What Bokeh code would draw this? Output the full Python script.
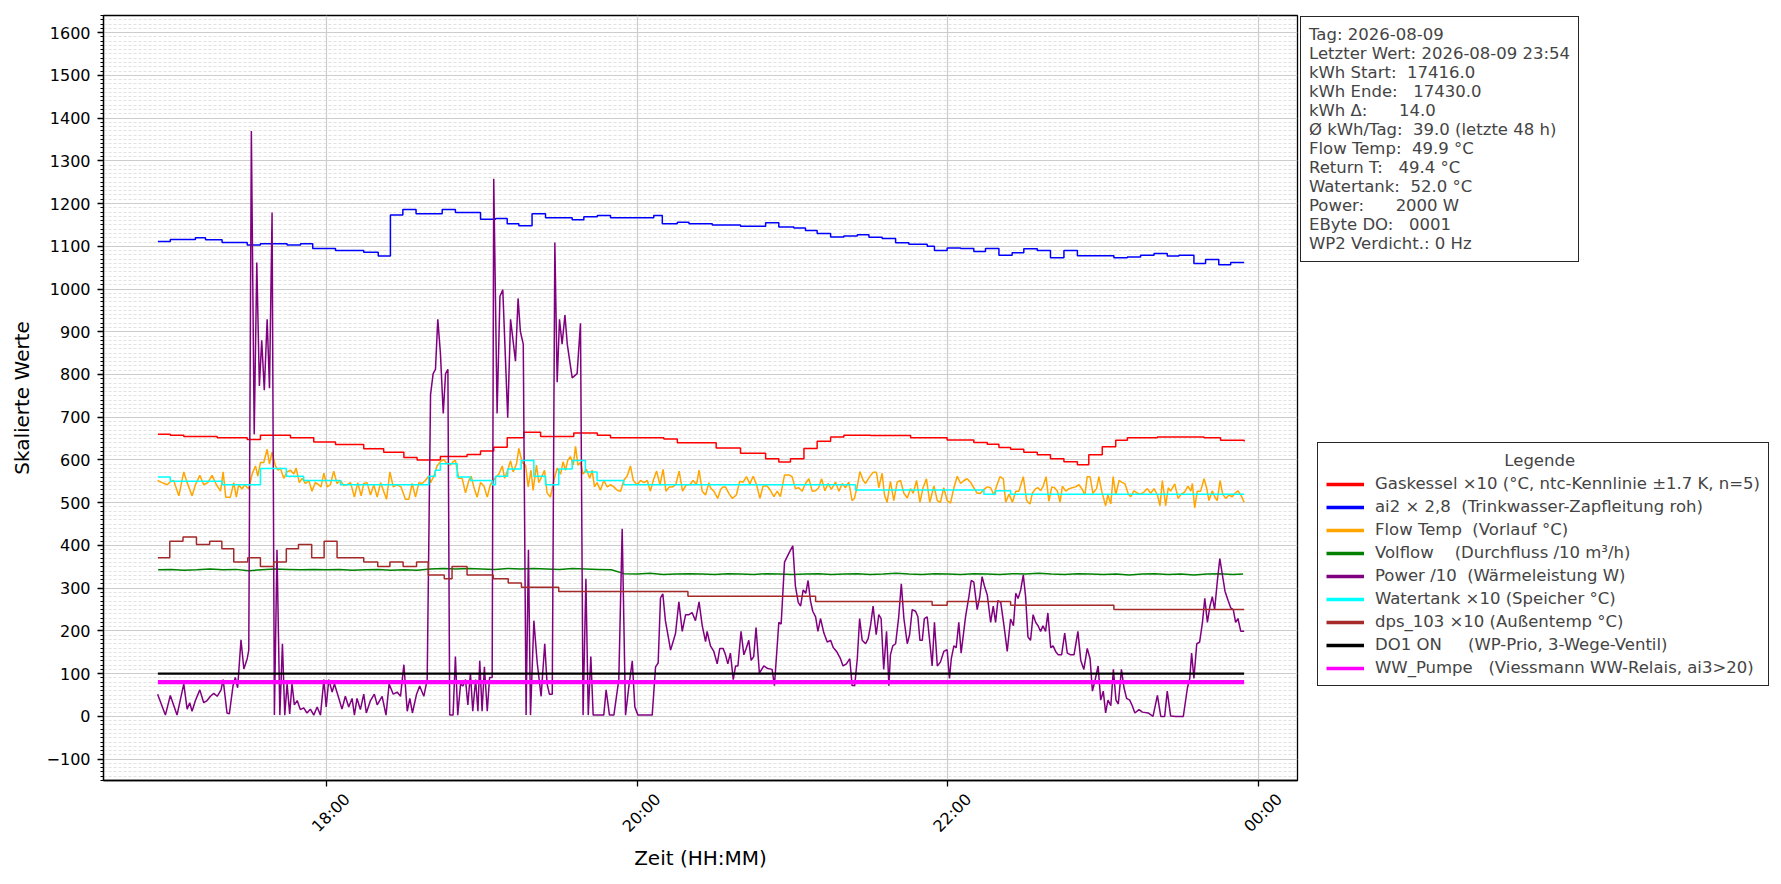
import numpy as np
import pandas as pd
from bokeh.plotting import figure
from bokeh.layouts import row
from bokeh.models import (Legend, LegendItem, SingleIntervalTicker, FixedTicker,
                          DatetimeAxis, Range1d)
from bokeh.embed import file_html
from bokeh.resources import INLINE

# ---------------- data (times in minutes relative to 18:00 on 2026-08-09) ----------------
BASE = pd.Timestamp("2026-08-09 18:00")

gas_t = [-65.1, -60.3, -55.1, -42.2, -30.6, -25.5, -13.9, -4.9, 3.5, 14.4,
         22.1, 29.9, 35.0, 44.0, 54.3, 59.5, 64.6, 69.8, 76.2, 82.7,
         95.5, 104.6, 109.7, 130.3, 135.5, 150.5, 159.9, 169.6, 174.7, 179.2,
         184.4, 189.5, 194.7, 199.8, 210.1, 225.6, 239.7, 250.0, 255.2, 259.7,
         264.2, 269.3, 274.5, 279.6, 284.8, 290.0, 294.4, 299.6, 304.8, 309.3,
         320.9, 338.9, 345.3, 354.4]
gas_v = [660, 658, 655, 652, 648, 658, 652, 642, 636, 626,
         618, 606, 600, 608, 613, 621, 630, 652, 665, 655,
         663, 658, 652, 649, 640, 628, 616, 603, 595, 603,
         627, 644, 654, 658, 657, 652, 647, 641, 637, 629,
         625, 618, 612, 603, 596, 589, 612, 631, 646, 652,
         654, 652, 646, 643]

ai2_t = [-65.1, -60.3, -50.6, -46.7, -40.3, -30.6, -25.5, -15.2, -10.0, -5.3,
         3.5, 14.4, 20.0, 24.7, 29.5, 34.6, 44.7, 49.8, 59.5, 65.3,
         69.8, 74.3, 79.4, 84.6, 94.9, 99.4, 104.6, 109.7, 126.4, 129.7,
         135.5, 140.0, 149.0, 159.9, 169.6, 174.7, 180.5, 185.0, 189.5, 194.7,
         199.8, 205.0, 209.5, 214.6, 219.8, 224.9, 232.0, 234.8, 239.7, 244.9,
         250.0, 254.5, 259.7, 264.8, 269.3, 274.5, 279.6, 284.8, 290.0, 304.1,
         309.3, 314.4, 319.6, 324.7, 329.2, 335.0, 339.5, 344.6, 349.2, 354.4]
ai2_v = [1111, 1116, 1120, 1115, 1109, 1103, 1106, 1103, 1106, 1095,
         1090, 1086, 1077, 1173, 1186, 1176, 1186, 1179, 1163, 1165,
         1153, 1148, 1176, 1167, 1162, 1169, 1172, 1167, 1172, 1153,
         1156, 1153, 1150, 1147, 1155, 1145, 1143, 1137, 1130, 1122,
         1124, 1127, 1121, 1118, 1108, 1105, 1100, 1090, 1096, 1095,
         1088, 1095, 1079, 1085, 1094, 1090, 1073, 1090, 1078, 1073,
         1075, 1079, 1083, 1077, 1079, 1060, 1069, 1057, 1062, 1062]

flow_t = [-65.2, -63.5, -61.5, -60.3, -59.0, -57.0, -55.1, -53.8, -51.9, -50.6,
          -48.9, -47.4, -45.8, -44.2, -42.5, -40.9, -39.9, -38.9, -37.1, -35.8,
          -34.8, -33.9, -32.6, -31.6, -30.0, -28.7, -27.4, -26.5, -25.5, -24.2,
          -22.9, -22.0, -21.0, -19.7, -18.7, -17.8, -16.5, -15.2, -13.9, -12.6,
          -11.7, -10.5, -9.4, -8.1, -6.8, -5.6, -4.3, -3.0, -2.1, -1.0,
          0.3, 1.5, 2.8, 4.1, 5.4, 6.7, 8.0, 9.3, 10.8, 12.1,
          13.4, 14.4, 15.7, 17.0, 18.3, 19.6, 20.9, 22.1, 23.2, 24.5,
          25.8, 27.3, 28.8, 30.5, 31.8, 33.1, 34.4, 35.7, 36.9, 38.2,
          39.5,
          40.2, 41.5, 42.7, 44.0, 45.3, 46.6, 47.9, 48.9, 49.8, 51.1,
          52.4, 53.7, 55.0, 55.9, 56.9, 58.2, 59.5, 60.8, 62.1, 63.3,
          64.4, 65.3, 66.6, 67.9, 68.8, 70.0, 71.1, 72.1, 73.4, 74.3,
          75.6, 76.9, 77.9, 79.0, 79.8, 81.1, 82.0, 83.0, 84.2, 85.2,
          86.5, 87.8, 89.1, 90.4, 91.4, 92.3, 93.2, 94.2, 95.3, 96.2,
          97.1, 98.1, 99.1, 100.4, 101.7, 102.6, 103.5, 104.5, 105.8, 107.1,
          108.4, 109.7, 111.0, 112.3, 113.6, 114.8, 116.1, 117.4, 118.5, 120.0,
          121.3, 122.6, 123.9, 125.1, 126.2, 127.5, 128.8, 130.0, 131.1, 132.4,
          133.6, 134.9, 136.2, 137.5, 139.0, 140.3, 141.6, 142.9, 143.9, 145.1,
          146.4, 147.7,
          148.3, 149.6, 151.1, 152.2, 153.2, 154.1, 155.4, 156.7, 158.3, 159.6,
          160.9, 162.2, 163.5, 164.8, 166.1, 167.4, 168.6, 170.2, 171.5, 172.8,
          174.1, 175.3, 176.9, 178.6, 179.8, 181.1, 182.4, 183.7, 185.0, 186.3,
          187.6, 188.9, 190.1, 191.2, 192.5, 193.7, 195.0, 196.6, 197.9, 199.2,
          200.4, 201.7, 203.0, 203.9, 205.0, 206.0, 207.3, 208.2, 209.8, 211.1,
          212.4, 213.3, 214.6, 215.5, 216.5, 217.8, 219.1, 220.4, 221.7, 223.0,
          224.3, 225.6, 226.6, 227.9, 229.2, 230.4, 231.7, 233.0, 234.6, 235.9,
          237.1, 238.4, 239.7, 241.0, 242.3, 243.6, 244.9, 246.2, 247.4, 248.7,
          250.0, 251.3, 252.6, 253.9, 255.2,
          256.5, 257.8, 258.8, 260.1, 261.4, 262.3, 263.6, 264.9, 266.2, 267.4,
          269.1, 270.4, 271.7, 272.6, 273.9, 274.8, 275.8, 276.8, 277.9, 279.0,
          280.1, 281.2, 282.3, 283.3, 284.2, 285.5, 286.8, 288.0, 289.3, 290.6,
          291.9, 292.9, 293.8, 294.9, 296.0, 297.4, 298.3, 299.4, 300.9, 301.8,
          302.9, 303.8, 304.8, 306.1, 307.1, 308.4, 309.7, 310.6, 311.9, 313.2,
          314.4, 315.7, 317.0, 318.3, 319.6, 320.9, 321.9, 322.8, 324.1, 325.1,
          326.0, 327.6, 328.9, 330.1, 331.4, 332.7, 333.8, 334.4, 335.3, 336.3,
          337.6, 338.9, 339.9, 340.8, 342.1, 343.0, 344.0, 345.1, 346.1, 347.3,
          348.6, 349.8, 350.9, 352.0, 353.3, 354.4]
flow_v = [552, 547, 542, 549, 552, 516, 572, 547, 516, 542,
          564, 542, 547, 564, 542, 527, 572, 513, 513, 547,
          513, 542, 532, 542, 532, 567, 586, 562, 594, 594,
          625, 591, 618, 586, 576, 581, 557, 572, 576, 567,
          581, 547, 557, 545, 552, 527, 547, 542, 537, 569,
          537, 542, 574, 545, 552, 540, 542, 547, 513, 547,
          516, 545, 547, 518, 542, 513, 547, 527, 508, 572,
          537, 542, 537, 508, 508, 545, 513, 547, 545, 552,
          562,
          547, 562, 586, 596, 601, 591, 588, 596, 599, 557,
          557, 523, 552, 562, 537, 513, 547, 539, 513, 542,
          552, 559, 567, 586, 557, 576, 598, 572, 591, 627,
          594, 588, 537, 576, 529, 588, 547, 559, 576, 523,
          513, 552, 581, 567, 596, 576, 599, 608, 588, 632,
          588, 594, 567, 578, 557, 576, 537, 547, 529, 552,
          537, 542, 537, 529, 527, 552, 562, 586, 552, 542,
          552, 547, 552, 527, 552, 574, 542, 578, 527, 537,
          537, 542, 574, 527, 542, 542, 552, 542, 576, 527,
          518, 547,
          535, 527, 510, 531, 537, 537, 522, 510, 518, 550,
          548, 561, 544, 562, 542, 510, 539, 539, 528, 514,
          527, 514, 565, 565, 561, 533, 535, 527, 545, 556,
          527, 528, 535, 556, 528, 545, 531, 548, 527, 545,
          535, 548, 505, 510, 539, 573, 552, 545, 561, 571,
          571, 535, 569, 518, 501, 550, 505, 548, 552, 522,
          511, 533, 522, 552, 501, 535, 556, 501, 539, 505,
          501, 535, 505, 499, 535, 562, 545, 552, 556, 548,
          535, 522, 522, 531, 537,
          535, 518, 539, 561, 556, 501, 520, 501, 527, 527,
          561, 505, 497, 522, 533, 535, 528, 539, 561, 503,
          537, 535, 527, 501, 539, 527, 533, 535, 537, 542,
          531, 518, 561, 561, 522, 533, 561, 527, 493, 518,
          497, 561, 518, 552, 548, 544, 520, 514, 528, 522,
          520, 525, 533, 522, 533, 518, 493, 552, 493, 535,
          527, 544, 510, 520, 525, 539, 527, 545, 488, 527,
          527, 556, 535, 505, 528, 514, 505, 552, 520, 510,
          518, 514, 522, 528, 516, 501]

volflow_t = [-65, -60, -55, -50, -45, -40, -35, -30, -25, -20,
             -15, -10, -5, 0, 5, 10, 15, 20, 25, 30,
             35, 40, 45, 50, 55, 60, 65, 70, 75, 80,
             85, 90, 95, 100, 105, 110, 115, 120, 125, 130,
             135, 140, 145, 150, 155, 160, 165, 170, 175, 180,
             185, 190, 195, 200, 205, 210, 215, 220, 225, 230,
             235, 240, 245, 250, 255, 260, 265, 270, 275, 280,
             285, 290, 295, 300, 305, 310, 315, 320, 325, 330,
             335, 340, 345, 350, 354]
volflow_v = [343, 344, 342, 343, 345, 343, 344, 341, 343, 345,
             344, 343, 344, 343, 344, 342, 343, 344, 342, 343,
             342, 345, 346, 345, 346, 345, 344, 346, 345, 346,
             345, 344, 346, 345, 344, 343, 334, 333, 335, 332,
             333, 334, 333, 332, 334, 333, 332, 334, 333, 332,
             333, 334, 332, 333, 334, 332, 333, 335, 333, 332,
             334, 333, 332, 334, 333, 332, 334, 333, 335, 333,
             332, 334, 333, 332, 333, 331, 333, 334, 332, 333,
             331, 333, 334, 332, 333]

power_t = [-65.2, -62.2, -60.3, -57.7, -55.1, -53.8, -52.8, -51.9, -50.6, -48.9,
           -47.4, -46.1, -44.8, -43.5, -42.2, -40.7, -39.9, -38.4, -37.5, -36.1,
           -35.2, -34.3, -33.0, -31.9, -30.6, -30.0,
           -29.0, -27.9, -26.9, -25.9, -25.0, -24.0, -22.9, -22.0, -21.0, -20.1,
           -19.1, -18.0, -17.0, -16.1, -15.2, -14.2, -13.3, -12.4, -11.3, -10.1,
           -8.8, -7.5, -6.2, -4.9, -3.6, -2.3, -1.0, -0.1, 0.9, 2.2,
           3.1, 4.8, 6.0, 7.3, 8.6, 9.9, 10.8, 11.8, 13.1, 14.4,
           15.4, 17.0, 18.5, 19.6, 21.5, 23.0, 24.2, 25.8, 27.3, 28.6,
           29.9, 31.2, 32.2, 33.2, 34.8, 36.0, 37.6, 38.9,
           40.2, 41.2, 42.1, 43.0, 44.0, 45.1, 46.0, 46.9, 47.6, 48.9,
           49.8, 50.7, 51.8, 52.7, 53.7, 54.6, 55.6, 56.5, 57.6, 58.5,
           59.2, 60.1, 61.0, 62.1, 63.0, 64.0, 64.6, 65.9, 67.0, 68.1,
           70.0, 71.1, 73.0, 74.0, 74.9, 76.0, 77.1, 78.0, 78.8, 80.1,
           81.4, 82.9, 84.3, 85.2, 86.1, 87.2, 88.2, 89.1, 90.0, 91.0,
           92.1, 93.0, 94.9, 96.8, 98.1, 99.1, 100.2, 101.1, 102.1, 103.0,
           107.1, 108.0, 109.3, 111.0, 112.9, 114.2, 115.5, 116.8, 118.1, 119.1,
           120.3, 125.8, 127.1, 128.1, 129.0, 129.9, 130.9, 132.9, 134.8, 136.1,
           137.4, 138.7, 140.0, 141.2, 142.5, 143.9, 145.1, 146.4, 147.0,
           148.3, 149.6, 150.9, 151.9, 153.2, 154.1, 155.0, 156.0, 157.1, 158.0,
           158.9, 160.1, 161.2, 162.1, 163.1, 164.0, 165.0, 165.9, 167.2, 168.9,
           170.4, 172.1, 173.0, 174.7, 175.6, 176.9, 178.6, 180.1, 181.1, 182.2,
           183.1, 184.1, 185.1, 186.0, 186.9, 187.8, 188.9, 189.8, 190.8, 192.1,
           193.4, 194.7, 195.7, 197.0, 198.5, 199.5, 200.8, 202.1, 203.0, 204.0,
           205.0, 205.9, 206.9, 208.2, 209.2, 210.1, 211.1, 212.3, 213.3, 214.2,
           215.2, 216.3, 217.2, 217.8, 218.7, 219.8, 221.0, 222.0, 223.0, 224.3,
           225.2, 226.2, 227.5, 228.4, 229.2, 230.1, 230.9, 232.0, 233.3, 233.9,
           234.8, 235.9, 237.1, 238.4, 239.7, 240.6, 241.3, 242.3, 243.2, 244.2,
           245.1, 246.8, 248.1, 249.0, 250.0, 251.3, 252.3, 253.2, 254.1, 255.2,
           256.5, 257.5, 258.4, 259.3, 260.4, 261.7, 262.9, 264.2, 265.3, 266.2,
           267.1, 268.1, 269.1, 270.0, 270.9, 271.9, 272.9, 273.9, 274.8, 275.8,
           276.7, 277.7, 278.6, 279.7, 280.6, 281.6, 282.6, 283.9, 285.1, 286.1,
           287.4, 288.7, 290.2, 291.3, 292.5, 293.8, 294.9, 295.8, 296.8, 298.0,
           299.0, 300.0, 300.9, 301.8, 302.9, 303.9, 304.9, 305.8, 307.0, 308.0,
           309.0, 310.2, 311.2, 312.2, 313.8, 315.1, 317.3, 319.2, 320.9, 322.2,
           323.7, 324.7, 326.0, 328.0, 330.9, 332.5, 333.4, 334.1, 335.0, 336.1,
           337.2, 338.3, 339.2, 340.2, 341.2, 342.1, 343.0, 344.0, 345.0, 346.0,
           347.0, 348.2, 349.2, 350.2, 351.1, 352.0, 353.1, 354.4]
power_v = [52, 3, 49, 3, 76, 17, 32, 12, 37, 62,
           32, 37, 47, 54, 47, 62, 86, 8, 6, 71,
           91, 67, 179, 111, 135, 155,
           1370, 660, 1062, 773, 880, 763, 929, 768, 1179, 3,
           390, 3, 170, 3, 76, 6, 76, 27, 37, 16,
           20, 8, 17, 3, 22, 3, 86, 22, 86, 57,
           76, 42, 17, 47, 22, 42, 3, 42, 16, 52,
           8, 37, 52, 27, 47, 3, 76, 52, 57, 47,
           121, 12, 42, 8, 52, 71, 47, 86,
           753, 802, 812, 929, 851, 709, 802, 812, 3, 3,
           140, 3, 76, 71, 86, 27, 101, 12, 86, 12,
           130, 12, 116, 12, 91, 91, 1258, 709, 983, 998,
           699, 929, 831, 978, 900, 871, 3, 390, 3, 224,
           125, 47, 170, 76, 52, 52, 1109, 782, 929, 871,
           939, 871, 792, 802, 920, 3, 322, 3, 140, 3,
           3, 62, 3, 3, 86, 439, 3, 71, 130, 22,
           3, 3, 116, 125, 277, 287, 224, 155, 194, 268,
           199, 238, 238, 243, 224, 268, 213, 175, 199,
           165, 152, 123, 159, 159, 144, 123, 148, 86, 118,
           118, 199, 144, 159, 178, 131, 140, 208, 101, 118,
           112, 110, 72, 220, 216, 361, 382, 399, 305, 267,
           258, 296, 288, 318, 271, 246, 233, 199, 229, 195,
           174, 178, 161, 152, 135, 118, 123, 135, 72, 72,
           135, 229, 178, 170, 182, 212, 258, 191, 238, 229,
           110, 199, 72, 144, 165, 170, 233, 310, 229, 170,
           191, 250, 246, 233, 178, 178, 229, 233, 156, 118,
           220, 118, 127, 152, 156, 89, 135, 165, 161, 220,
           148, 233, 280, 318, 314, 250, 280, 327, 305, 284,
           220, 258, 220, 271, 267, 210, 152, 228, 212, 288,
           276, 296, 331, 280, 186, 178, 238, 220, 212, 199,
           212, 199, 242, 161, 165, 152, 144, 144, 195, 148,
           144, 144, 199, 131, 110, 159, 135, 59, 84, 118,
           38, 59, 8, 38, 25, 110, 38, 29, 110, 67,
           42, 38, 25, 8, 16, 10, 8, 0, 49, 0,
           0, 59, 1, 0, 0, 67, 89, 148, 89, 170,
           174, 220, 276, 220, 258, 280, 250, 314, 369, 331,
           293, 271, 254, 250, 220, 229, 199, 199]

tank_t = [-65.1, -60.3, -40.3, -25.5, -15.5, -8.8, 5.4, 39.5, 42.0, 44.0,
          50.5, 55.6, 64.0, 65.3, 70.0, 75.2, 80.1, 84.6, 89.7, 94.9,
          100.0, 104.5, 114.8, 204.3, 253.9, 258.4, 264.2, 354.4]
tank_v = [560, 550, 542, 580, 562, 552, 542, 562, 576, 591,
          560, 552, 542, 562, 579, 599, 562, 542, 579, 599,
          572, 552, 542, 530, 520, 528, 520, 520]

dps_t = [-65.1, -60.5, -55.4, -50.2, -45.1, -40.4, -35.8, -30.4, -25.5, -20.4,
         -15.5, -10.8, -5.7, -0.9, 4.1, 14.4, 19.8, 24.5, 29.6, 34.8,
         39.3, 45.5, 48.5, 54.3, 64.4, 70.2, 75.3, 89.7, 139.6, 188.9,
         233.9, 239.7, 264.2, 304.1, 354.4]
dps_v = [371, 410, 420, 402, 410, 392, 361, 371, 351, 361,
         392, 402, 371, 410, 371, 361, 351, 361, 351, 361,
         331, 322, 351, 331, 322, 312, 302, 292, 281, 269,
         260, 269, 260, 250, 250]

do1_t = [-65.1, 354.4]
do1_v = [100, 100]
wwp_t = [-65.1, 354.4]
wwp_v = [80, 80]

x_tick_minutes = [0, 120, 240, 360]
x_tick_labels = ["18:00", "20:00", "22:00", "00:00"]

legend_title = "Legende"
legend_labels = [
    "Gaskessel \u00d710 (\u00b0C, ntc-Kennlinie \u00b11.7 K, n=5)",
    "ai2 \u00d7 2,8  (Trinkwasser-Zapfleitung roh)",
    "Flow Temp  (Vorlauf \u00b0C)",
    "Volflow    (Durchfluss /10 m\u00b3/h)",
    "Power /10  (W\u00e4rmeleistung W)",
    "Watertank \u00d710 (Speicher \u00b0C)",
    "dps_103 \u00d710 (Au\u00dfentemp \u00b0C)",
    "DO1 ON     (WP-Prio, 3-Wege-Ventil)",
    "WW_Pumpe   (Viessmann WW-Relais, ai3>20)",
]
colors = ["red", "blue", "orange", "green", "purple", "cyan", "brown", "black", "magenta"]

info_lines = [
    "Tag: 2026-08-09",
    "Letzter Wert: 2026-08-09 23:54",
    "kWh Start:  17416.0",
    "kWh Ende:   17430.0",
    "kWh \u0394:      14.0",
    "\u00d8 kWh/Tag:  39.0 (letzte 48 h)",
    "Flow Temp:  49.9 \u00b0C",
    "Return T:   49.4 \u00b0C",
    "Watertank:  52.0 \u00b0C",
    "Power:      2000 W",
    "EByte DO:   0001",
    "WP2 Verdicht.: 0 Hz",
]


def ts(mins):
    return (BASE + pd.to_timedelta(np.asarray(mins, dtype=float), unit="m")).to_numpy()


def ms(m):
    return int((BASE + pd.Timedelta(minutes=m)).value // 1_000_000)


FONT = "DejaVu Sans"
H = 876
TOP, BOTTOM = 15, 96

p = figure(width=1299, height=H, x_axis_type="datetime", output_backend="svg",
           toolbar_location=None,
           x_range=Range1d(BASE + pd.Timedelta(minutes=-86.1), BASE + pd.Timedelta(minutes=375.0)),
           y_range=Range1d(-150, 1640),
           min_border_left=103, min_border_right=2, min_border_top=TOP, min_border_bottom=BOTTOM)
p.background_fill_color = "white"
p.border_fill_color = "white"
p.outline_line_color = "black"
p.outline_line_width = 1.3
p.outline_line_alpha = 1.0

# series (drawn in legend order)
lw = 1.5
p.step(ts(gas_t), gas_v, mode="after", line_color=colors[0], line_width=lw)
p.step(ts(ai2_t), ai2_v, mode="after", line_color=colors[1], line_width=lw)
p.line(ts(flow_t), flow_v, line_color=colors[2], line_width=lw)
p.line(ts(volflow_t), volflow_v, line_color=colors[3], line_width=lw)
p.line(ts(power_t), power_v, line_color=colors[4], line_width=lw)
p.step(ts(tank_t), tank_v, mode="after", line_color=colors[5], line_width=lw)
p.step(ts(dps_t), dps_v, mode="after", line_color=colors[6], line_width=lw)
p.line(ts(do1_t), do1_v, line_color=colors[7], line_width=2.4)
p.line(ts(wwp_t), wwp_v, line_color=colors[8], line_width=4.2)


def style_axis(ax):
    ax.axis_line_color = "black"
    ax.axis_line_width = 1.3
    ax.major_tick_line_color = "black"
    ax.major_tick_line_width = 1.3
    ax.major_tick_out = 6
    ax.major_tick_in = 0
    ax.minor_tick_line_color = "black"
    ax.minor_tick_line_width = 1.0
    ax.minor_tick_out = 3
    ax.minor_tick_in = 0
    ax.major_label_text_font = FONT
    ax.major_label_text_font_size = "16px"
    ax.major_label_text_color = "black"
    ax.axis_label_text_font = FONT
    ax.axis_label_text_font_size = "20px"
    ax.axis_label_text_font_style = "normal"
    ax.axis_label_text_color = "black"


# main x axis: ticks only (labels are drawn by a second axis, centred under the ticks)
xa = p.xaxis[0]
style_axis(xa)
xa.ticker = FixedTicker(ticks=[ms(m) for m in x_tick_minutes])
xa.major_label_overrides = {ms(m): "" for m in x_tick_minutes}
xa.major_label_standoff = 0

SHIFT = 8.0  # minutes: moves right-aligned rotated labels so they are centred on the ticks
xl = DatetimeAxis(ticker=FixedTicker(ticks=[ms(m + SHIFT) for m in x_tick_minutes]))
style_axis(xl)
xl.axis_line_color = None
xl.major_tick_line_color = None
xl.minor_tick_line_color = None
xl.major_label_overrides = {ms(m + SHIFT): lab for m, lab in zip(x_tick_minutes, x_tick_labels)}
xl.major_label_orientation = np.pi / 4
xl.major_label_standoff = 4
xl.axis_label = "Zeit (HH:MM)"
xl.axis_label_standoff = 0
p.add_layout(xl, "below")

ya = p.yaxis[0]
style_axis(ya)
ya.ticker = SingleIntervalTicker(interval=100, num_minor_ticks=10)
ya.major_label_overrides = {-100: "\u2212100"}
ya.axis_label = "Skalierte Werte"
ya.major_label_standoff = 7
ya.axis_label_standoff = 10

p.xgrid.grid_line_color = "#cccccc"
p.xgrid.grid_line_width = 1.2
p.ygrid.grid_line_color = "#cccccc"
p.ygrid.grid_line_width = 1.2
p.ygrid.minor_grid_line_color = "#d6d6d6"
p.ygrid.minor_grid_line_width = 0.7
p.ygrid.minor_grid_line_dash = "3 2"

# ---------------- right side: legend and info box ----------------
p2 = figure(width=474, height=H, output_backend="svg", toolbar_location=None,
            x_range=Range1d(0, 1), y_range=Range1d(0, 1),
            x_axis_location=None, y_axis_location=None,
            min_border_left=0, min_border_right=0, min_border_top=TOP, min_border_bottom=BOTTOM)
p2.outline_line_color = None
p2.grid.grid_line_color = None
p2.background_fill_color = "white"
p2.border_fill_color = "white"

FRAME_BOTTOM = H - BOTTOM  # page y of the frame bottom

items = []
for lab, col in zip(legend_labels, colors):
    r = p2.line(x=[np.nan], y=[np.nan], line_color=col, line_width=3.5)
    items.append(LegendItem(label=lab, renderers=[r]))
# the title is centred over the legend by leading spaces
legend = Legend(items=items, location=(18, FRAME_BOTTOM - 686), title=" " * 34 + legend_title,
                label_text_font=FONT, label_text_font_size="16.5px",
                title_text_font=FONT, title_text_font_size="16.5px", title_text_font_style="normal",
                title_standoff=4,
                glyph_width=38, glyph_height=18, label_height=18, spacing=4,
                padding=8, margin=0, label_standoff=11,
                border_line_color="black", border_line_width=1.3, border_line_alpha=0.85,
                background_fill_color="white", background_fill_alpha=1.0)
p2.add_layout(legend)

# info box as a glyph-less legend (one text row per line)
ghost = p2.line(x=[np.nan], y=[np.nan], line_alpha=0)
info_items = [LegendItem(label=t, renderers=[ghost]) for t in info_lines]
info = Legend(items=info_items, location="top_left", margin=1,
              label_text_font=FONT, label_text_font_size="16.5px",
              glyph_width=0, glyph_height=16, label_height=16, spacing=0,
              padding=8, label_standoff=0,
              border_line_color="black", border_line_width=1.6, border_line_alpha=0.85,
              background_fill_color="white", background_fill_alpha=1.0)
p2.add_layout(info)

open("out.html", "w").write(file_html(row(p, p2), INLINE))
